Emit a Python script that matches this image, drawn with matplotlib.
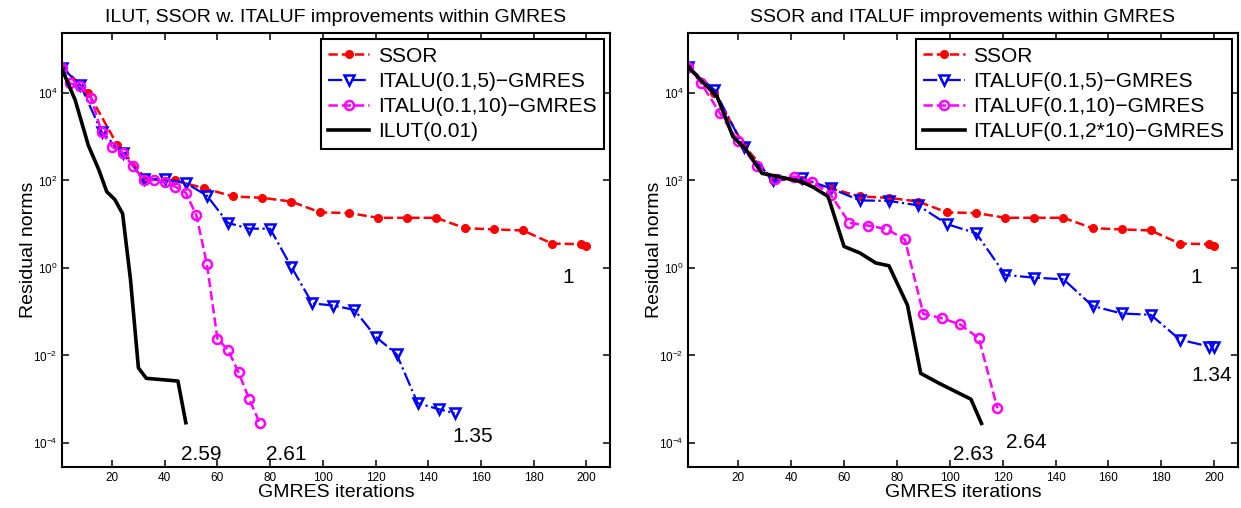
import matplotlib
matplotlib.use('Agg')
import matplotlib.pyplot as plt
from matplotlib.ticker import FixedLocator, LogFormatterSciNotation, NullLocator

plt.rcParams['font.family'] = ['Liberation Sans', 'DejaVu Sans']
plt.rcParams['mathtext.fontset'] = 'custom'
plt.rcParams['mathtext.rm'] = 'Liberation Sans'
plt.rcParams['mathtext.it'] = 'Liberation Sans:italic'

# SSOR (same in both panels)
ssor_it = [1, 11, 22, 33, 44, 55, 66, 77, 88, 99, 110, 121, 132, 143, 154, 165, 176, 187, 198, 200]
ssor_res = [4.0e4, 1.0e4, 650, 105, 100, 66, 43, 40, 33, 18.6, 18, 14, 14, 14, 8.1, 7.6, 7.2, 3.6, 3.5, 3.2]

# left panel
italu5_it = [1, 8, 16, 24, 32, 40, 48, 56, 64, 72, 80, 88, 96, 104, 112, 120, 128, 136, 144, 150]
italu5_res = [3.8e4, 1.5e4, 1.3e3, 420, 107, 107, 87, 45, 10.7, 7.9, 7.9, 1.07, 0.155, 0.138, 0.11,
              0.027, 0.0107, 8.1e-4, 5.9e-4, 4.8e-4]
italu10_it = [1, 4, 8, 12, 16, 20, 24, 28, 32, 36, 40, 44, 48, 52, 56, 60, 64, 68, 72, 76]
italu10_res = [3.8e4, 1.66e4, 1.41e4, 7.8e3, 1.3e3, 590, 420, 210, 102, 102, 91, 72, 52, 16, 1.23,
               0.024, 0.0135, 0.0041, 0.00102, 2.9e-4]
ilut_it = [1, 6, 11, 15, 18, 21, 24, 27, 30, 33, 45, 48]
ilut_res = [3.5e4, 6.9e3, 630, 174, 55, 37, 17.4, 0.54, 0.0052, 0.003, 0.0026, 2.9e-4]

# right panel
italuf5_it = ssor_it
italuf5_res = [4.0e4, 1.17e4, 590, 102, 112, 66, 35, 34, 27, 10, 6.2, 0.69, 0.6, 0.55, 0.135,
               0.091, 0.085, 0.023, 0.016, 0.016]
italuf10_it = [1, 6, 13, 20, 27, 34, 41, 48, 55, 62, 69, 76, 83, 90, 97, 104, 111, 118]
italuf10_res = [4.0e4, 1.66e4, 3.5e3, 780, 210, 107, 123, 93, 47, 10.7, 9.3, 7.8, 4.5, 0.089,
                0.071, 0.051, 0.0245, 6.2e-4]
italuf2x10_it = [1, 7, 12, 18, 23, 29, 35, 44, 48, 54, 60, 66, 72, 77, 84, 89, 96, 108, 112]
italuf2x10_res = [4.0e4, 1.66e4, 8.3e3, 1.0e3, 500, 145, 123, 93, 72, 43, 3.1, 2.2, 1.3, 1.12,
                  0.141, 0.0039, 0.0023, 0.001, 2.8e-4]

left_labels = ['SSOR', 'ITALU(0.1,5)\u2212GMRES', 'ITALU(0.1,10)\u2212GMRES', 'ILUT(0.01)']
right_labels = ['SSOR', 'ITALUF(0.1,5)\u2212GMRES', 'ITALUF(0.1,10)\u2212GMRES',
                'ITALUF(0.1,2*10)\u2212GMRES']
left_notes = [('2.59', 54, 5.4e-5), ('2.61', 86, 5.4e-5), ('1.35', 157, 1.4e-4), ('1', 193, 0.59)]
right_notes = [('2.63', 109, 5.4e-5), ('2.64', 129, 1.05e-4), ('1.34', 199, 3.4e-3), ('1', 193, 0.59)]

xticks = [20, 40, 60, 80, 100, 120, 140, 160, 180, 200]
yticks = [1e-4, 1e-2, 1e0, 1e2, 1e4]


def draw(ax, series, labels, notes, title):
    styles = [dict(color='red', ls='--', lw=1.8, marker='o', ms=5.5, mfc='red', mec='red'),
              dict(color='blue', ls='-.', lw=1.6, marker='v', ms=7.5, mfc='none', mec='blue', mew=1.8),
              dict(color='magenta', ls='--', lw=1.8, marker='o', ms=6.5, mfc='none', mec='magenta', mew=1.8),
              dict(color='black', ls='-', lw=2.6)]
    for (it, res), lab, st in zip(series, labels, styles):
        ax.semilogy(it, res, label=lab, **st)
    for txt, x, y in notes:
        ax.text(x, y, txt, fontsize=15, ha='center', va='center')
    ax.set_xlim(1, 209)
    ax.set_ylim(10 ** -4.55, 10 ** 5.37)
    ax.xaxis.set_major_locator(FixedLocator(xticks))
    ax.yaxis.set_major_locator(FixedLocator(yticks))
    ax.yaxis.set_minor_locator(NullLocator())
    ax.yaxis.set_major_formatter(LogFormatterSciNotation())
    ax.tick_params(direction='in', top=True, right=True, labelsize=8.5, length=5, width=1.1)
    for sp in ax.spines.values():
        sp.set_linewidth(1.5)
    ax.set_title(title, fontsize=14, pad=8)
    ax.set_xlabel('GMRES iterations', fontsize=14, labelpad=0)
    ax.set_ylabel('Residual norms', fontsize=14, labelpad=-3)
    leg = ax.legend(loc='upper right', fontsize=15, fancybox=False, framealpha=1,
                    edgecolor='black', labelspacing=0.3, handlelength=2.0,
                    handletextpad=0.4, borderaxespad=0.3, borderpad=0.35)
    leg.get_frame().set_linewidth(1.5)


fig = plt.figure(figsize=(12.41, 5.08), dpi=100)
ax1 = fig.add_axes([62 / 1241, 41 / 508, 548 / 1241, 434 / 508])
ax2 = fig.add_axes([688 / 1241, 41 / 508, 550 / 1241, 434 / 508])

draw(ax1, [(ssor_it, ssor_res), (italu5_it, italu5_res), (italu10_it, italu10_res), (ilut_it, ilut_res)],
     left_labels, left_notes, 'ILUT, SSOR w. ITALUF improvements within GMRES')
draw(ax2, [(ssor_it, ssor_res), (italuf5_it, italuf5_res), (italuf10_it, italuf10_res),
           (italuf2x10_it, italuf2x10_res)],
     right_labels, right_notes, 'SSOR and ITALUF improvements within GMRES')

fig.savefig('out.png', dpi=100)
